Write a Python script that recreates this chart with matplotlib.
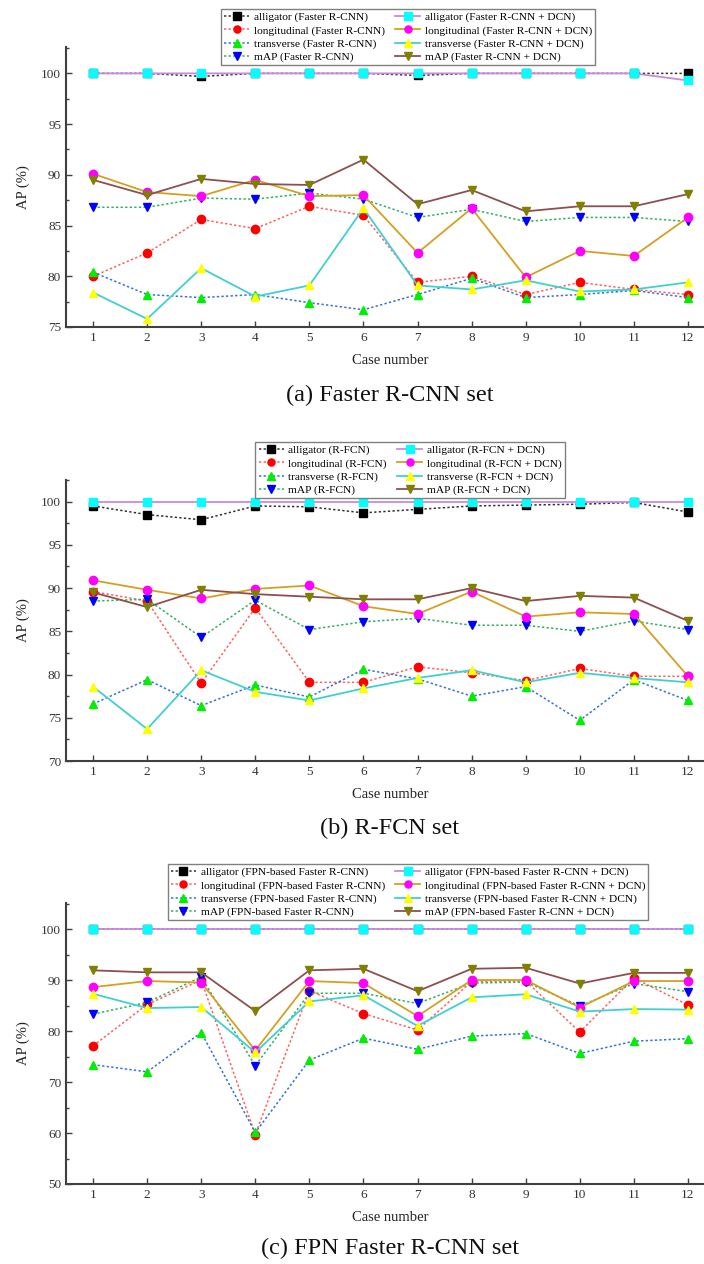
import matplotlib.pyplot as plt
from matplotlib.ticker import MultipleLocator

plt.rcParams['font.family'] = ['Liberation Serif', 'DejaVu Serif']

cases = list(range(1, 13))

# (a) Faster R-CNN
frcnn_alligator = [100, 100, 99.7, 100, 100, 100, 99.8, 100, 100, 100, 100, 100]
frcnn_longitudinal = [80.0, 82.3, 85.6, 84.7, 86.9, 86.0, 79.4, 80.0, 78.2, 79.4, 78.7, 78.2]
frcnn_transverse = [80.4, 78.2, 77.9, 78.2, 77.4, 76.7, 78.2, 79.8, 77.9, 78.2, 78.6, 77.9]
frcnn_map = [86.8, 86.8, 87.7, 87.6, 88.2, 87.6, 85.8, 86.6, 85.4, 85.8, 85.8, 85.4]
frcnn_dcn_alligator = [100, 100, 100, 100, 100, 100, 100, 100, 100, 100, 100, 99.3]
frcnn_dcn_longitudinal = [90.1, 88.3, 87.9, 89.5, 87.9, 88.0, 82.3, 86.7, 79.9, 82.5, 82.0, 85.8]
frcnn_dcn_transverse = [78.4, 75.8, 80.8, 78.0, 79.1, 86.7, 79.1, 78.7, 79.6, 78.5, 78.7, 79.4]
frcnn_dcn_map = [89.5, 88.0, 89.6, 89.1, 89.0, 91.5, 87.1, 88.5, 86.4, 86.9, 86.9, 88.1]

# (b) R-FCN
rfcn_alligator = [99.5, 98.5, 97.9, 99.5, 99.4, 98.7, 99.1, 99.5, 99.6, 99.7, 99.9, 98.8]
rfcn_longitudinal = [89.6, 88.5, 79.0, 87.7, 79.1, 79.1, 80.9, 80.2, 79.3, 80.7, 79.8, 79.8]
rfcn_transverse = [76.6, 79.4, 76.4, 78.8, 77.4, 80.6, 79.5, 77.5, 78.6, 74.7, 79.4, 77.0]
rfcn_map = [88.5, 88.7, 84.3, 88.6, 85.2, 86.1, 86.5, 85.7, 85.7, 85.0, 86.2, 85.2]
rfcn_dcn_alligator = [100] * 12
rfcn_dcn_longitudinal = [90.9, 89.8, 88.8, 89.9, 90.3, 87.9, 87.0, 89.6, 86.7, 87.2, 87.0, 79.8]
rfcn_dcn_transverse = [78.6, 73.7, 80.5, 78.0, 77.0, 78.4, 79.6, 80.5, 79.1, 80.2, 79.6, 79.1]
rfcn_dcn_map = [89.5, 87.8, 89.8, 89.3, 89.0, 88.7, 88.7, 90.0, 88.5, 89.1, 88.9, 86.2]

# (c) FPN-based Faster R-CNN
fpn_alligator = [100] * 12
fpn_longitudinal = [77.1, 85.2, 90.0, 59.7, 87.9, 83.4, 80.2, 89.7, 89.8, 79.8, 90.4, 85.1]
fpn_transverse = [73.4, 72.0, 79.7, 60.1, 74.3, 78.6, 76.4, 79.0, 79.5, 75.6, 78.0, 78.5]
fpn_map = [83.3, 85.6, 90.6, 73.2, 87.4, 87.4, 85.4, 89.4, 89.6, 84.9, 89.3, 87.7]
fpn_dcn_alligator = [100] * 12
fpn_dcn_longitudinal = [88.6, 89.8, 89.5, 76.2, 89.8, 89.4, 82.9, 90.0, 90.0, 84.6, 89.8, 89.8]
fpn_dcn_transverse = [87.3, 84.5, 84.7, 75.8, 85.8, 87.0, 81.0, 86.6, 87.2, 83.8, 84.3, 84.2]
fpn_dcn_map = [91.9, 91.5, 91.5, 83.9, 91.9, 92.2, 87.8, 92.2, 92.4, 89.3, 91.4, 91.4]

classes = ['alligator', 'longitudinal', 'transverse', 'mAP']

# line colour, marker, marker colour per class
base_styles = [('#303030', 's', 'black'), ('#ff6060', 'o', 'red'),
               ('#3070e0', '^', '#00ee00'), ('#30b060', 'v', 'blue')]
dcn_styles = [('#c88ae0', 's', 'cyan'), ('#d4a020', 'o', 'magenta'),
              ('#40d0d0', '^', 'yellow'), ('#8c5050', 'v', '#808000')]

panels = [
    dict(name='Faster R-CNN', title='(a) Faster R-CNN set',
         base=[frcnn_alligator, frcnn_longitudinal, frcnn_transverse, frcnn_map],
         dcn=[frcnn_dcn_alligator, frcnn_dcn_longitudinal, frcnn_dcn_transverse, frcnn_dcn_map],
         ylim=(75, 102.6), major=5, minor=2.5,
         rect=(327, 280), legend=(408, 9), title_y=395),
    dict(name='R-FCN', title='(b) R-FCN set',
         base=[rfcn_alligator, rfcn_longitudinal, rfcn_transverse, rfcn_map],
         dcn=[rfcn_dcn_alligator, rfcn_dcn_longitudinal, rfcn_dcn_transverse, rfcn_dcn_map],
         ylim=(70, 102.5), major=5, minor=2.5,
         rect=(761, 281), legend=(410, 442), title_y=828),
    dict(name='FPN-based Faster R-CNN', title='(c) FPN Faster R-CNN set',
         base=[fpn_alligator, fpn_longitudinal, fpn_transverse, fpn_map],
         dcn=[fpn_dcn_alligator, fpn_dcn_longitudinal, fpn_dcn_transverse, fpn_dcn_map],
         ylim=(50, 105.1), major=10, minor=5,
         rect=(1184, 281), legend=(408, 864), title_y=1248),
]

W, H = 704, 1264
fig = plt.figure(figsize=(W / 100, H / 100), dpi=100)

for p in panels:
    bottom_px, height_px = p['rect']
    ax = fig.add_axes([66 / W, 1 - bottom_px / H, (715 - 66) / W, height_px / H])

    handles = []
    for cls, ys, (lc, mk, mc) in zip(classes, p['base'], base_styles):
        h, = ax.plot(cases, ys, linestyle=(0, (1.5, 1.5)), color=lc, lw=1.1,
                     marker=mk, ms=6, mfc=mc, mec=mc, label=f'{cls} ({p["name"]})')
        handles.append(h)
    for cls, ys, (lc, mk, mc) in zip(classes, p['dcn'], dcn_styles):
        h, = ax.plot(cases, ys, linestyle='-', color=lc, lw=1.3,
                     marker=mk, ms=6, mfc=mc, mec=mc, label=f'{cls} ({p["name"]} + DCN)')
        handles.append(h)

    ax.set_xlim(0.5, 12.5)
    ax.set_ylim(*p['ylim'])
    ax.set_xticks(cases)
    ax.yaxis.set_major_locator(MultipleLocator(p['major']))
    ax.yaxis.set_minor_locator(MultipleLocator(p['minor']))
    for s in ['top', 'right']:
        ax.spines[s].set_visible(False)
    for s in ['left', 'bottom']:
        ax.spines[s].set_color('#404040')
        ax.spines[s].set_linewidth(1.5)
    ax.tick_params(which='both', direction='in', colors='#404040', labelcolor='#333333')
    ax.tick_params(which='major', length=4, width=1, labelsize=9.5)
    ax.tick_params(which='minor', length=2.5, width=1)
    ax.set_xlabel('Case number', fontsize=10.5, color='#222222', labelpad=7)
    ax.set_ylabel('AP (%)', fontsize=10.5, color='#222222', labelpad=8)

    lx, ly = p['legend']
    fig.legend(handles=handles, ncol=2, loc='upper center',
               bbox_to_anchor=(lx / W, 1 - ly / H), bbox_transform=fig.transFigure,
               borderaxespad=0, fontsize=8.2, markerscale=0.85, handlelength=2.2,
               handletextpad=0.4, columnspacing=0.9, labelspacing=0.26, borderpad=0.28,
               fancybox=False, framealpha=1, edgecolor='#808080')

    fig.text(390 / W, 1 - p['title_y'] / H, p['title'], ha='center', va='center',
             fontsize=17.5, color='#111111')

fig.savefig('out.png', dpi=100)
